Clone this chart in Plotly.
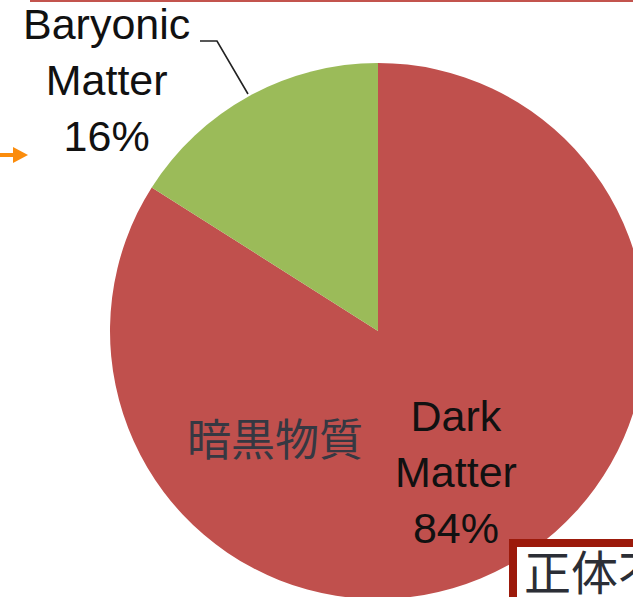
import plotly.graph_objects as go

# Composition of the matter content of the universe (drawn clockwise from 12 o'clock)
labels = ["Dark Matter", "Baryonic Matter"]
values = [84, 16]
colors = ["#c0504d", "#9bbb59"]
jp_label = "暗黒物質"
box_text = "正体不明"

W, H = 660, 620


def px(x):
    return x / W


def py(y):
    return 1 - y / H


def block(label, v):
    return "<br>".join(label.split(" ") + [f"{v}%"])


# pie: centre (378, 331), radius 268 px
cx, cy, r = 378, 331, 268

fig = go.Figure(
    go.Pie(
        labels=labels,
        values=values,
        sort=False,
        direction="clockwise",
        rotation=0,
        marker=dict(colors=colors, line=dict(width=0)),
        textinfo="none",
        hoverinfo="label+percent",
        showlegend=False,
        domain=dict(x=[px(cx - r), px(cx + r)], y=[py(cy + r), py(cy - r)]),
    )
)

label_font = dict(family="Arial, Liberation Sans, sans-serif", size=43, color="#111111")

annotations = [
    dict(text=block(labels[1], values[1]), x=px(106), y=py(80),
         xanchor="center", yanchor="middle", showarrow=False, font=label_font),
    dict(text=block(labels[0], values[0]), x=px(456), y=py(472),
         xanchor="center", yanchor="middle", showarrow=False, font=label_font),
    dict(text=jp_label, x=px(275), y=py(437), xanchor="center", yanchor="middle",
         showarrow=False,
         font=dict(family="Noto Sans CJK JP", size=44, color="#363842")),
    dict(text=box_text, x=px(522), y=py(533), xanchor="left", yanchor="top",
         showarrow=False,
         font=dict(family="Noto Sans CJK JP", size=47, color="#2b2e36")),
]

shapes = [
    # thin rule across the top
    dict(type="line", xref="paper", yref="paper", x0=px(30), x1=px(W), y0=py(1), y1=py(1),
         line=dict(color="#c3544e", width=2)),
    # leader line for the small slice
    dict(type="path", xref="paper", yref="paper",
         path=f"M {px(200)},{py(41)} L {px(217)},{py(41)} L {px(248)},{py(94)}",
         line=dict(color="#222222", width=1.6)),
    # orange pointer on the left
    dict(type="path", xref="paper", yref="paper",
         path=(f"M {px(0)},{py(153)} L {px(13)},{py(153)} L {px(13)},{py(147)} "
               f"L {px(28)},{py(155)} L {px(13)},{py(163)} L {px(13)},{py(157)} "
               f"L {px(0)},{py(157)} Z"),
         fillcolor="#fb8c0c", line=dict(width=0)),
    # framed box in the lower right
    dict(type="rect", xref="paper", yref="paper", x0=px(513), x1=px(W + 20),
         y0=py(H + 20), y1=py(543), fillcolor="white",
         line=dict(color="#9c1a0b", width=8)),
]

fig.update_layout(
    width=W,
    height=H,
    margin=dict(l=0, r=0, t=0, b=0),
    paper_bgcolor="white",
    plot_bgcolor="white",
    shapes=shapes,
    annotations=annotations,
)

fig.write_html(
    "out.html",
    config={"displayModeBar": False},
    post_script=(
        "document.documentElement.style.overflow='hidden';"
        "document.body.style.overflow='hidden';"
        "document.body.style.margin='0';"
    ),
)
